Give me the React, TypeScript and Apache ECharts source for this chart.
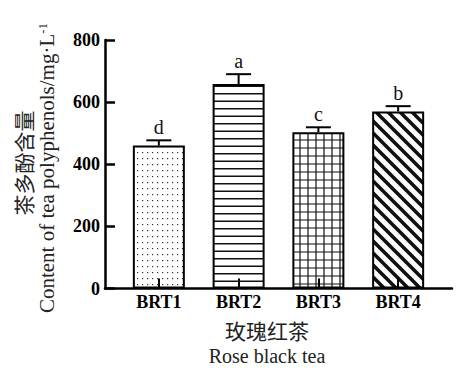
import React, { useEffect, useRef } from "react";
import * as echarts from "echarts";

const categories = ["BRT1", "BRT2", "BRT3", "BRT4"];
const values = [460, 658, 503, 570];
const errors = [17, 32, 16, 17];
const letters = ["d", "a", "c", "b"];
const patternKinds = ["dots", "hlines", "grid", "diag"];
const yMin = 0;
const yMax = 800;
const yStep = 200;

const SERIF = '"Liberation Serif", "Times New Roman", serif';
const CJK = '"Liberation Serif", "Noto Sans CJK SC", serif';

function makePattern(kind: string): HTMLCanvasElement {
  const c = document.createElement("canvas");
  let w = 8, h = 8;
  if (kind === "dots") { w = 5; h = 6; }
  if (kind === "hlines") { w = 4; h = 15; }
  if (kind === "grid") { w = 8; h = 8; }
  if (kind === "diag") { w = 12; h = 12; }
  c.width = w; c.height = h;
  const ctx = c.getContext("2d")!;
  ctx.fillStyle = "#fff";
  ctx.fillRect(0, 0, w, h);
  ctx.strokeStyle = "#111";
  ctx.fillStyle = "#333";
  if (kind === "dots") {
    ctx.fillRect(2, 2, 1.2, 1.2);
  } else if (kind === "hlines") {
    ctx.lineWidth = 1.3;
    ctx.beginPath();
    ctx.moveTo(0, 3.75); ctx.lineTo(w, 3.75);
    ctx.moveTo(0, 11.25); ctx.lineTo(w, 11.25);
    ctx.stroke();
  } else if (kind === "grid") {
    ctx.lineWidth = 1.2;
    ctx.beginPath();
    ctx.moveTo(0, 4); ctx.lineTo(w, 4);
    ctx.moveTo(4, 0); ctx.lineTo(4, h);
    ctx.stroke();
  } else if (kind === "diag") {
    ctx.lineWidth = 3.6;
    ctx.beginPath();
    for (const k of [-12, 0, 12]) {
      ctx.moveTo(k - 2, -2);
      ctx.lineTo(k + 14, 14);
    }
    ctx.stroke();
  }
  return c;
}

export default function App() {
  const ref = useRef<HTMLDivElement>(null);
  useEffect(() => {
    const chart = echarts.init(ref.current!, null, { renderer: "svg" });
    const patterns = patternKinds.map((k) => makePattern(k));
    const option: any = {
      animation: false,
      backgroundColor: "#fff",
      grid: { left: 105, right: 11, top: 40, bottom: 79.5 },
      xAxis: {
        type: "value",
        min: -0.675,
        max: 3.675,
        z: 5,
        axisLine: { onZero: false, lineStyle: { color: "#000", width: 2.5 } },
        axisTick: {
          inside: true,
          length: 10,
          customValues: [0, 1, 2, 3],
          lineStyle: { color: "#000", width: 2 },
        },
        axisLabel: {
          customValues: [0, 1, 2, 3],
          formatter: (v: number) => categories[Math.round(v)] ?? "",
          fontFamily: SERIF,
          fontWeight: "bold",
          fontSize: 18,
          color: "#000",
          margin: 4,
        },
        splitLine: { show: false },
      },
      yAxis: {
        type: "value",
        min: yMin,
        max: yMax,
        interval: yStep,
        z: 5,
        axisLine: { show: true, onZero: false, lineStyle: { color: "#000", width: 2.5 } },
        axisTick: { show: true, inside: true, length: 10, lineStyle: { color: "#000", width: 2.5 } },
        axisLabel: {
          fontFamily: SERIF,
          fontWeight: "bold",
          fontSize: 18,
          color: "#000",
          margin: 5,
        },
        splitLine: { show: false },
      },
      series: [
        {
          type: "bar",
          barWidth: 52,
          z: 2,
          data: values.map((v, i) => ({
            value: [i, v],
            itemStyle: {
              color: { image: patterns[i], repeat: "repeat" },
              borderColor: "#000",
              borderWidth: 2,
            },
          })),
        },
        {
          type: "custom",
          z: 4,
          data: values.map((v, i) => [i, v, errors[i]]),
          renderItem: (params: any, api: any) => {
            const x = api.value(0);
            const v = api.value(1);
            const e = api.value(2);
            const top = api.coord([x, v]);
            const cap = api.coord([x, v + e]);
            return {
              type: "group",
              children: [
                {
                  type: "line",
                  shape: { x1: top[0], y1: top[1], x2: cap[0], y2: cap[1] },
                  style: { stroke: "#000", lineWidth: 2 },
                },
                {
                  type: "line",
                  shape: { x1: cap[0] - 12.5, y1: cap[1], x2: cap[0] + 12.5, y2: cap[1] },
                  style: { stroke: "#000", lineWidth: 2 },
                },
                {
                  type: "text",
                  x: cap[0],
                  y: cap[1] - 13,
                  style: {
                    text: letters[params.dataIndex],
                    textAlign: "center",
                    textVerticalAlign: "middle",
                    font: `20px ${SERIF}`,
                    fill: "#111",
                  },
                },
              ],
            };
          },
        },
      ],
      graphic: [
        {
          type: "text",
          x: 267,
          y: 332,
          style: {
            text: "玫瑰红茶",
            textAlign: "center",
            textVerticalAlign: "middle",
            font: `21px ${CJK}`,
            fill: "#222",
          },
        },
        {
          type: "text",
          x: 267,
          y: 356,
          style: {
            text: "Rose black tea",
            textAlign: "center",
            textVerticalAlign: "middle",
            font: `20px ${SERIF}`,
            fill: "#222",
          },
        },
        {
          type: "text",
          x: 25,
          y: 163,
          rotation: Math.PI / 2,
          style: {
            text: "茶多酚含量",
            textAlign: "center",
            textVerticalAlign: "middle",
            font: `21px ${CJK}`,
            fill: "#222",
          },
        },
        {
          type: "text",
          x: 47,
          y: 168,
          rotation: Math.PI / 2,
          style: {
            text: "Content of tea polyphenols/mg·L{sup|-1}",
            textAlign: "center",
            textVerticalAlign: "middle",
            font: `21px ${SERIF}`,
            fill: "#222",
            rich: {
              sup: { fontFamily: SERIF, fontSize: 13, verticalAlign: "top", padding: [0, 0, 10, 0], color: "#222" },
            },
          },
        },
      ],
    };
    chart.setOption(option);
    return () => chart.dispose();
  }, []);
  return (
    <div
      ref={ref}
      style={{ position: "fixed", left: 0, top: 0, width: 463, height: 368 }}
    />
  );
}
